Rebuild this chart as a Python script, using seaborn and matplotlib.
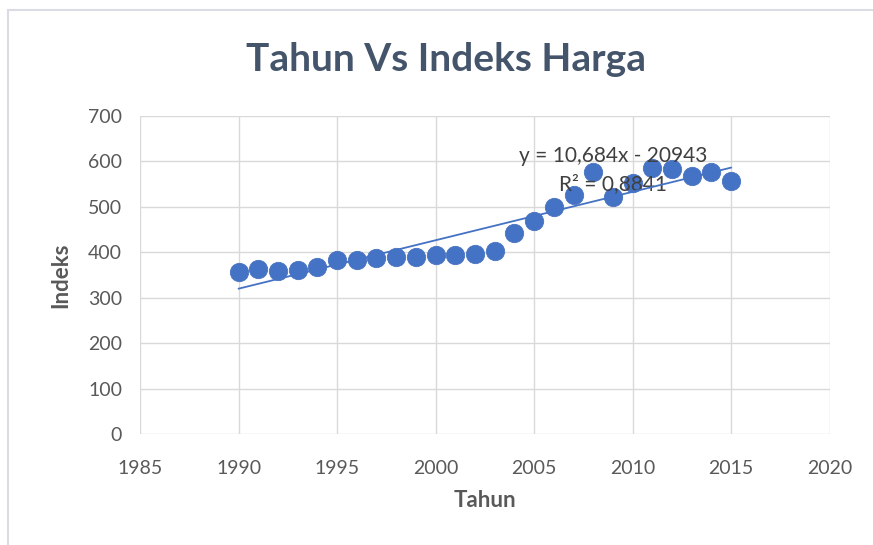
import numpy as np
import pandas as pd
import matplotlib
matplotlib.use("Agg")
import matplotlib.pyplot as plt
import seaborn as sns

# data
tahun = [1990, 1991, 1992, 1993, 1994, 1995, 1996, 1997, 1998, 1999,
         2000, 2001, 2002, 2003, 2004, 2005, 2006, 2007, 2008, 2009,
         2010, 2011, 2012, 2013, 2014, 2015]
indeks = [357, 363, 359, 360, 368, 382, 382, 387, 390, 390,
          394, 394, 396, 402, 443, 469, 500, 526, 576, 521,
          553, 585, 584, 567, 576, 557]
persamaan = "y = 10,684x - 20943"
r_kuadrat = "R² = 0,8841"

df = pd.DataFrame({"Tahun": tahun, "Indeks": indeks})

sns.set_style("white")
plt.rcParams["font.family"] = ["Lato", "DejaVu Sans"]

fig = plt.figure(figsize=(8.73, 5.45), dpi=100)
ax = fig.add_axes([0.1604, 0.2037, 0.790, 0.5835])

# chart border like the excel frame
fig.patches.append(plt.Rectangle((0.009, -0.1), 1.2, 1.082, transform=fig.transFigure,
                                 fill=False, edgecolor="#d9dde3", linewidth=1.5))

sns.regplot(data=df, x="Tahun", y="Indeks", ax=ax, ci=None,
            scatter_kws={"s": 175, "color": "#4472C4", "edgecolor": "#4a74c0",
                         "linewidths": 0.6, "alpha": 1, "zorder": 3},
            line_kws={"color": "#4472C4", "linewidth": 1.3, "zorder": 4})

ax.set_xlim(1985, 2020)
ax.set_ylim(0, 700)
ax.set_xticks(range(1985, 2021, 5))
ax.set_yticks(range(0, 701, 100))
ax.grid(True, color="#d9d9d9", linewidth=1)
ax.set_axisbelow(True)
for s in ax.spines.values():
    s.set_visible(False)
ax.tick_params(axis="x", length=0, pad=19, labelsize=14, labelcolor="#595959")
ax.tick_params(axis="y", length=0, pad=13, labelsize=14, labelcolor="#595959")

ax.set_xlabel("Tahun", fontsize=16, fontweight="bold", color="#595959", labelpad=9)
ax.set_ylabel("Indeks", fontsize=16, fontweight="bold", color="#595959", labelpad=12)
fig.text(0.511, 0.89, "Tahun Vs Indeks Harga", fontsize=28, fontweight="bold",
         color="#44546A", ha="center", va="center")

ax.text(2009.0, 612, persamaan, fontsize=15, color="#404040", ha="center", va="center")
ax.text(2009.0, 551, r_kuadrat, fontsize=15, color="#404040", ha="center", va="center")

plt.savefig("out.png", dpi=100)
